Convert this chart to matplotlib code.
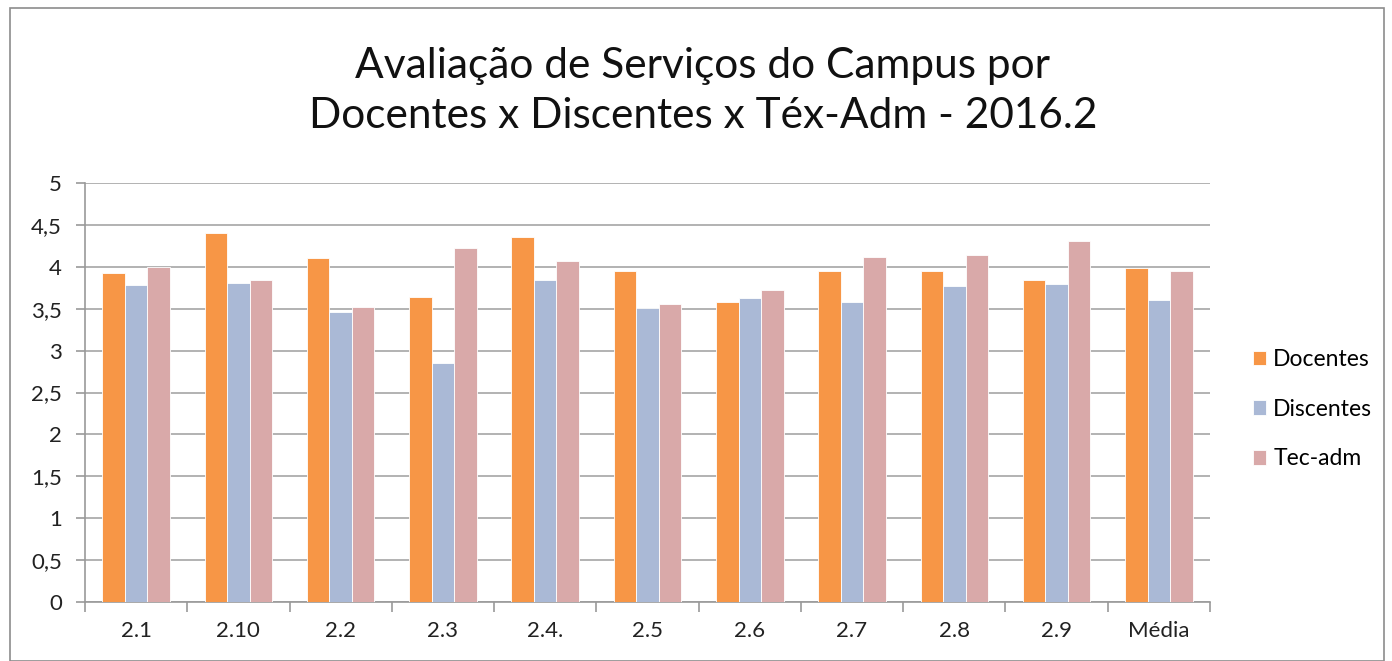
import numpy as np
import matplotlib
matplotlib.use('Agg')
from matplotlib import pyplot as plt
from matplotlib.patches import Rectangle

plt.rcParams['font.family'] = ['Lato', 'DejaVu Sans']

# categories and series
categorias = ['2.1', '2.10', '2.2', '2.3', '2.4.', '2.5', '2.6', '2.7', '2.8', '2.9', 'Média']
docentes = [3.93, 4.40, 4.11, 3.64, 4.35, 3.95, 3.58, 3.95, 3.95, 3.84, 3.98]
discentes = [3.78, 3.81, 3.46, 2.85, 3.84, 3.51, 3.63, 3.58, 3.77, 3.79, 3.60]
tec_adm = [4.00, 3.84, 3.52, 4.22, 4.07, 3.56, 3.72, 4.12, 4.14, 4.31, 3.95]
yticks = [0, 0.5, 1, 1.5, 2, 2.5, 3, 3.5, 4, 4.5, 5]
ylabels = ['0', '0,5', '1', '1,5', '2', '2,5', '3', '3,5', '4', '4,5', '5']

cores = ['#F79646', '#AAB9D6', '#D9A9A9']

fig = plt.figure(figsize=(13.92, 6.61), dpi=100)
ax = fig.add_axes([85 / 1392, (661 - 602) / 661, (1210 - 85) / 1392, (602 - 183) / 661])

x = np.arange(len(categorias))
w = 0.22
series = [('Docentes', docentes), ('Discentes', discentes), ('Tec-adm', tec_adm)]
for i, (nome, vals) in enumerate(series):
    ax.bar(x + (i - 1) * w, vals, w, color=cores[i], edgecolor='white', linewidth=0.6, label=nome, zorder=3)

ax.set_xlim(-0.5, len(categorias) - 0.5)
ax.set_ylim(0, 5)
ax.set_yticks(yticks)
ax.set_yticklabels(ylabels, fontsize=16, color='#222222')
ax.set_xticks(x)
ax.set_xticklabels(categorias, fontsize=16, color='#222222')
ax.tick_params(axis='x', length=0, pad=14)
ax.tick_params(axis='y', length=6.5, color='#999999', width=1.2, pad=10)
# tick marks between categories, Excel style
ax.set_xticks(np.arange(-0.5, len(categorias)), minor=True)
ax.tick_params(axis='x', which='minor', length=7, color='#999999', width=1.2)

ax.grid(axis='y', color='#A6A6A6', linewidth=1.2, zorder=0)
for s in ['top', 'right']:
    ax.spines[s].set_visible(False)
for s in ['left', 'bottom']:
    ax.spines[s].set_color('#999999')
    ax.spines[s].set_linewidth(1.2)

fig.text(0.505, 0.862, 'Avaliação de Serviços do Campus por\nDocentes x Discentes x Téx-Adm - 2016.2',
         ha='center', va='center', fontsize=30.5, linespacing=1.4, color='#111111')

ax.legend(loc='center left', bbox_to_anchor=(1.0195, 0.46), frameon=False, fontsize=16.5,
          handlelength=0.6, handleheight=0.6, handletextpad=0.3, labelspacing=1.25)

fig.patches.append(Rectangle((10 / 1392, 0), (1384 - 10) / 1392, 653 / 661, transform=fig.transFigure,
                             fill=False, edgecolor='#8C8C8C', linewidth=1.2))

fig.savefig('out.png', dpi=100)
